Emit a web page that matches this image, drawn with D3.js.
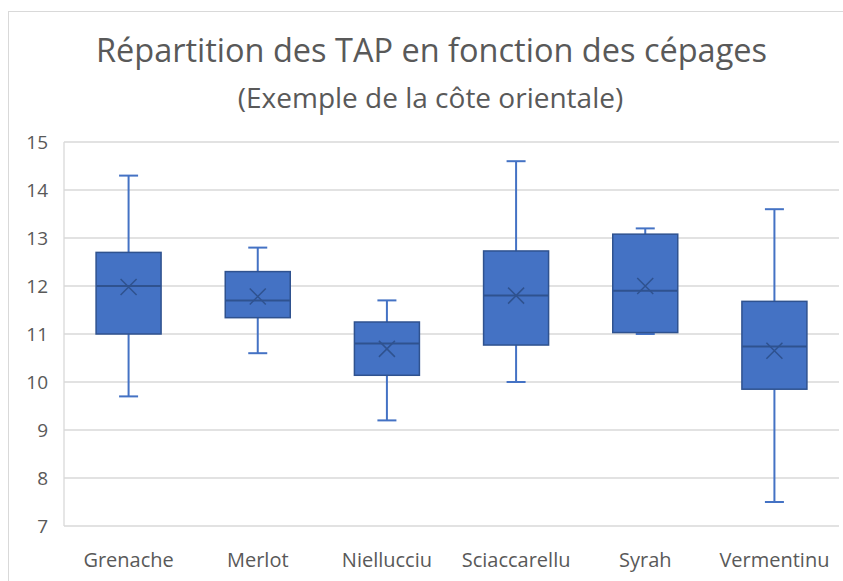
<!DOCTYPE html>
<html lang="fr">
<head>
    <meta charset="UTF-8">
    <title>Répartition des TAP en fonction des cépages</title>
    <script src="https://d3js.org/d3.v7.min.js"></script>
    <style>
        body { margin: 0; background: #fff; }
        text { font-family: "Open Sans", "Noto Sans", sans-serif; fill: #595959; }
    </style>
</head>
<body>
<svg width="843" height="581"></svg>
<script>
    // data
    const cepages = ["Grenache", "Merlot", "Niellucciu", "Sciaccarellu", "Syrah", "Vermentinu"];
    const minVals = [9.7, 10.6, 9.2, 10.0, 11.0, 7.5];
    const q1Vals = [11.0, 11.34, 10.14, 10.77, 11.03, 9.85];
    const medVals = [12.0, 11.7, 10.8, 11.8, 11.9, 10.74];
    const q3Vals = [12.7, 12.3, 11.25, 12.73, 13.08, 11.68];
    const maxVals = [14.3, 12.8, 11.7, 14.6, 13.2, 13.6];
    const meanVals = [11.98, 11.78, 10.69, 11.8, 12.0, 10.65];
    const yTicks = [7, 8, 9, 10, 11, 12, 13, 14, 15];

    const rows = cepages.map((c, i) => ({
        name: c, min: minVals[i], q1: q1Vals[i], med: medVals[i],
        q3: q3Vals[i], max: maxVals[i], mean: meanVals[i]
    }));

    const svg = d3.select("svg");
    const plotLeft = 64, plotRight = 839, plotTop = 142, plotBottom = 526;

    // outer chart frame
    svg.append("rect")
        .attr("x", 8.5).attr("y", 11.5)
        .attr("width", 900).attr("height", 700)
        .attr("fill", "none").attr("stroke", "#d9d9d9");

    const x = d3.scaleBand().domain(cepages).range([plotLeft, plotRight]);
    const y = d3.scaleLinear().domain([7, 15]).range([plotBottom, plotTop]);

    // gridlines
    svg.append("g").selectAll("line")
        .data(yTicks)
        .join("line")
        .attr("x1", plotLeft).attr("x2", plotRight)
        .attr("y1", d => y(d)).attr("y2", d => y(d))
        .attr("stroke", "#d9d9d9").attr("stroke-width", 1.3);
    svg.append("line")
        .attr("x1", plotLeft).attr("x2", plotLeft)
        .attr("y1", plotTop).attr("y2", plotBottom)
        .attr("stroke", "#d9d9d9").attr("stroke-width", 1.3);

    // y axis labels
    const yAxis = svg.append("g")
        .attr("transform", "translate(" + (plotLeft - 16) + ",0)")
        .call(d3.axisLeft(y).tickValues(yTicks).tickSize(0).tickPadding(0));
    yAxis.select(".domain").remove();
    yAxis.selectAll("text")
        .attr("font-size", 19).attr("fill", "#595959")
        .style("font-family", "'Open Sans', sans-serif");

    // category labels
    const xAxis = svg.append("g")
        .attr("transform", "translate(0," + plotBottom + ")")
        .call(d3.axisBottom(x).tickSize(0).tickPadding(27));
    xAxis.select(".domain").remove();
    xAxis.selectAll("text")
        .attr("font-size", 20).attr("fill", "#595959")
        .style("font-family", "'Open Sans', sans-serif");

    const boxW = 65, capW = 19, xs = 8;
    const fill = "#4472c4", dark = "#2f528f";

    const g = svg.append("g").selectAll("g")
        .data(rows)
        .join("g")
        .attr("transform", d => "translate(" + (x(d.name) + x.bandwidth() / 2) + ",0)");

    // whiskers
    g.append("line")
        .attr("x1", 0).attr("x2", 0)
        .attr("y1", d => y(d.max)).attr("y2", d => y(d.q3))
        .attr("stroke", fill).attr("stroke-width", 2);
    g.append("line")
        .attr("x1", 0).attr("x2", 0)
        .attr("y1", d => y(d.q1)).attr("y2", d => y(d.min))
        .attr("stroke", fill).attr("stroke-width", 2);
    g.append("line")
        .attr("x1", -capW / 2).attr("x2", capW / 2)
        .attr("y1", d => y(d.max)).attr("y2", d => y(d.max))
        .attr("stroke", fill).attr("stroke-width", 2);
    g.append("line")
        .attr("x1", -capW / 2).attr("x2", capW / 2)
        .attr("y1", d => y(d.min)).attr("y2", d => y(d.min))
        .attr("stroke", fill).attr("stroke-width", 2);

    // box
    g.append("rect")
        .attr("x", -boxW / 2).attr("width", boxW)
        .attr("y", d => y(d.q3))
        .attr("height", d => y(d.q1) - y(d.q3))
        .attr("fill", fill).attr("stroke", dark).attr("stroke-width", 1.5);

    // median
    g.append("line")
        .attr("x1", -boxW / 2).attr("x2", boxW / 2)
        .attr("y1", d => y(d.med)).attr("y2", d => y(d.med))
        .attr("stroke", dark).attr("stroke-width", 2);

    // mean marker (x)
    g.append("path")
        .attr("d", d => {
            const cy = y(d.mean);
            return "M" + (-xs) + "," + (cy - xs) + "L" + xs + "," + (cy + xs) +
                "M" + xs + "," + (cy - xs) + "L" + (-xs) + "," + (cy + xs);
        })
        .attr("stroke", dark).attr("stroke-width", 1.5).attr("fill", "none");

    // titles
    svg.append("text")
        .attr("x", 431.5).attr("y", 62)
        .attr("text-anchor", "middle")
        .attr("font-size", 32.5)
        .text("Répartition des TAP en fonction des cépages");
    svg.append("text")
        .attr("x", 430.5).attr("y", 108)
        .attr("text-anchor", "middle")
        .attr("font-size", 28)
        .text("(Exemple de la côte orientale)");
</script>
</body>
</html>
